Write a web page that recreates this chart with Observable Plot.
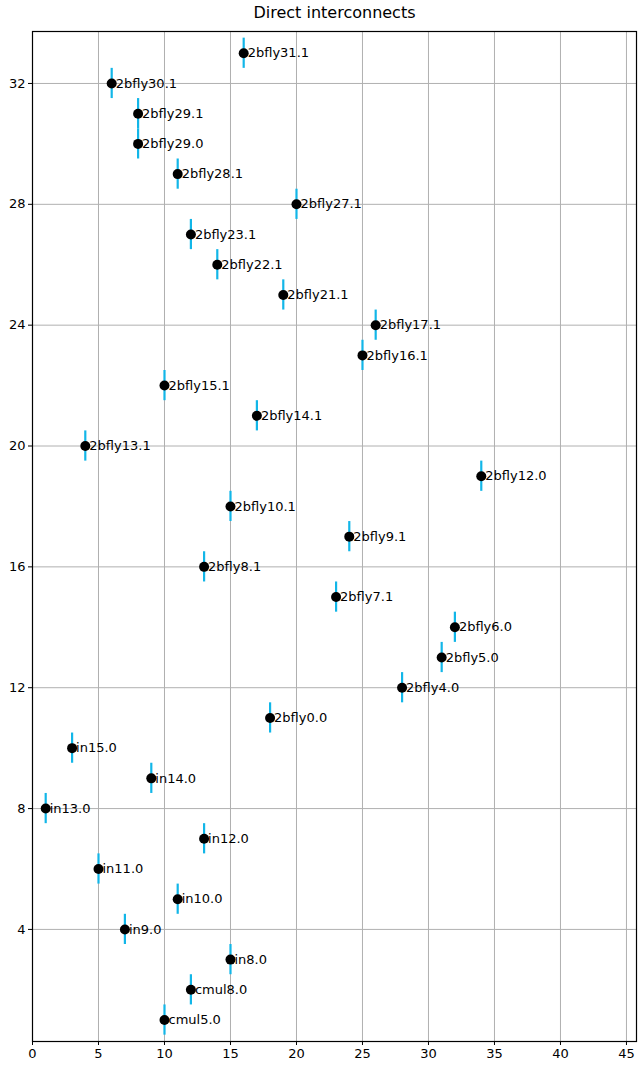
<!DOCTYPE html>
<html>
<head>
<meta charset="utf-8">
<script src="https://cdn.jsdelivr.net/npm/d3@7"></script>
<script src="https://cdn.jsdelivr.net/npm/@observablehq/plot@0.6"></script>
<style>
  body { margin: 0; background: #fff; }
  svg { display: block; }
</style>
</head>
<body>
<div id="chart"></div>
<script>
const labels = ["cmul5.0","cmul8.0","in8.0","in9.0","in10.0","in11.0","in12.0","in13.0","in14.0","in15.0",
  "2bfly0.0","2bfly4.0","2bfly5.0","2bfly6.0","2bfly7.1","2bfly8.1","2bfly9.1","2bfly10.1","2bfly12.0",
  "2bfly13.1","2bfly14.1","2bfly15.1","2bfly16.1","2bfly17.1","2bfly21.1","2bfly22.1","2bfly23.1",
  "2bfly27.1","2bfly28.1","2bfly29.0","2bfly29.1","2bfly30.1","2bfly31.1"];
const xs = [10,12,15,7,11,5,13,1,9,3,18,28,31,32,23,13,24,15,34,4,17,10,25,26,19,14,12,20,11,8,8,6,16];
const ys = [1,2,3,4,5,6,7,8,9,10,11,12,13,14,15,16,17,18,19,20,21,22,23,24,25,26,27,28,29,30,31,32,33];
const errHalf = 0.5;
const xTicks = [0,5,10,15,20,25,30,35,40,45];
const yTicks = [4,8,12,16,20,24,28,32];
const title = "Direct interconnects";

const data = labels.map((l, i) => ({label: l, x: xs[i], y: ys[i], lo: ys[i] - errHalf, hi: ys[i] + errHalf}));

const plot = Plot.plot({
  width: 640,
  height: 1070,
  marginTop: 31,
  marginBottom: 29,
  marginLeft: 32,
  marginRight: 4,
  style: {fontFamily: "DejaVu Sans", fontSize: "13px", color: "#000", background: "#fff"},
  x: {domain: [0, 45.76], label: null},
  y: {domain: [0.29, 33.72], label: null},
  marks: [
    Plot.gridX(xTicks, {stroke: "#b0b0b0", strokeOpacity: 1, strokeWidth: 1}),
    Plot.gridY(yTicks, {stroke: "#b0b0b0", strokeOpacity: 1, strokeWidth: 1}),
    Plot.ruleX(data, {x: "x", y1: "lo", y2: "hi", stroke: "#12b6e8", strokeWidth: 2.2}),
    Plot.text(data, {x: "x", y: "y", text: "label", textAnchor: "start", dx: 4, fill: "#000", fontSize: 13}),
    Plot.dot(data, {x: "x", y: "y", r: 5, fill: "#000", stroke: "none"}),
    Plot.axisX(xTicks, {tickSize: 4, tickFormat: () => "", stroke: "#000", strokeOpacity: 1}),
    Plot.axisY(yTicks, {tickSize: 4, tickFormat: () => "", stroke: "#000", strokeOpacity: 1}),
    Plot.text(xTicks, {x: d => d, frameAnchor: "bottom", dy: 16, text: d => String(d), fontSize: 13, fill: "#000"}),
    Plot.text(yTicks, {y: d => d, frameAnchor: "left", dx: -7, textAnchor: "end", text: d => String(d), fontSize: 13, fill: "#000"}),
    Plot.frame({stroke: "#000", strokeWidth: 1.2}),
    Plot.text([title], {frameAnchor: "top", dy: -25, fontSize: 16, fill: "#000"})
  ]
});
document.getElementById("chart").appendChild(plot);
</script>
</body>
</html>
